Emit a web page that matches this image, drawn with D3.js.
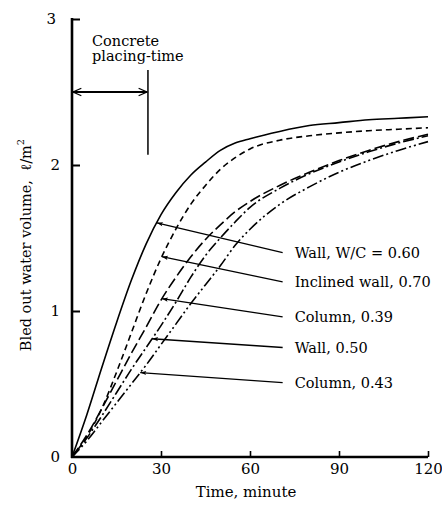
<!DOCTYPE html>
<html>
<head>
<meta charset="utf-8">
<script src="https://cdn.jsdelivr.net/npm/d3@7"></script>
<style>
  html, body { margin: 0; padding: 0; background: #fff; }
  svg { display: block; }
  text { font-family: "DejaVu Serif", "Liberation Serif", serif; fill: #000; }
</style>
</head>
<body>
<svg id="chart" width="442" height="507"></svg>
<script>
// ---- data ----
const times = [0, 5, 10, 15, 20, 25, 30, 35, 40, 45, 50, 55, 60, 70, 80, 90, 100, 110, 120];
const wall060      = [0, 0.29, 0.61, 0.92, 1.21, 1.46, 1.66, 1.81, 1.93, 2.02, 2.10, 2.15, 2.18, 2.23, 2.27, 2.29, 2.31, 2.32, 2.33];
const inclined070  = [0, 0.14, 0.33, 0.58, 0.85, 1.12, 1.36, 1.56, 1.73, 1.86, 1.97, 2.05, 2.11, 2.17, 2.20, 2.22, 2.235, 2.245, 2.255];
const column039    = [0, 0.15, 0.33, 0.52, 0.71, 0.89, 1.075, 1.23, 1.37, 1.49, 1.59, 1.68, 1.75, 1.86, 1.95, 2.03, 2.10, 2.16, 2.21];
const wall050      = [0, 0.13, 0.28, 0.44, 0.60, 0.75, 0.90, 1.06, 1.23, 1.38, 1.50, 1.61, 1.71, 1.84, 1.94, 2.02, 2.09, 2.15, 2.20];
const column043    = [0, 0.11, 0.24, 0.37, 0.50, 0.63, 0.77, 0.91, 1.05, 1.18, 1.31, 1.45, 1.56, 1.73, 1.85, 1.95, 2.03, 2.10, 2.16];

const seriesNames  = ["Wall, W/C = 0.60", "Inclined wall, 0.70", "Column, 0.39", "Wall, 0.50", "Column, 0.43"];
const seriesValues = [wall060, inclined070, column039, wall050, column043];
const dashStyles   = [null, "6,4", "11,4", "11,3,2,3", "11,3,2,3,2,3"];
const leaderTipTime   = [28.6, 30.3, 30.3, 27, 23];     // minute where each leader touches its curve
const labelLevel      = [1.40, 1.20, 0.96, 0.75, 0.51];  // volume level of each label
const labelTime       = 71;                               // leader end (minute)

const xTicks = [0, 30, 60, 90, 120];
const yTicks = [0, 1, 2, 3];
const placingTime = 25.6;     // concrete placing-time (minute)
const placingArrowLevel = 2.5;
const placingLineRange = [2.07, 2.65];

// ---- layout ----
const svg = d3.select("#chart");
const x = d3.scaleLinear().domain([0, 120]).range([72, 428]);
const y = d3.scaleLinear().domain([0, 3]).range([457, 19]);

// defs: arrowheads
const defs = svg.append("defs");
defs.append("marker").attr("id", "tip").attr("viewBox", "0 0 10 10")
  .attr("refX", 0).attr("refY", 5).attr("markerWidth", 9).attr("markerHeight", 6)
  .attr("markerUnits", "userSpaceOnUse").attr("orient", "auto")
  .append("path").attr("d", "M0,5 L10,1.5 L8,5 L10,8.5 Z").attr("fill", "#000");
defs.append("marker").attr("id", "open").attr("viewBox", "0 0 12 12")
  .attr("refX", 11).attr("refY", 6).attr("markerWidth", 12).attr("markerHeight", 10)
  .attr("markerUnits", "userSpaceOnUse").attr("orient", "auto-start-reverse")
  .append("path").attr("d", "M1,1.5 L11,6 L1,10.5").attr("fill", "none").attr("stroke", "#000").attr("stroke-width", 1.6);

// axes
const yAxis = d3.axisLeft(y).tickValues(yTicks).tickFormat(d3.format("d")).tickSize(-8).tickPadding(12);
const gy = svg.append("g").attr("transform", `translate(${x(0)},0)`).call(yAxis);
gy.select(".domain").remove();
gy.selectAll(".tick line").attr("stroke", "#000").attr("stroke-width", 2);
gy.selectAll(".tick text").attr("font-size", 15).attr("font-family", "DejaVu Serif").attr("dy", "0.3em");
gy.selectAll(".tick").filter(d => d === 0).select("line").remove();
gy.selectAll(".tick").filter(d => d === 3).select("text").attr("x", -16);

const xAxis = d3.axisBottom(x).tickValues(xTicks).tickFormat(d3.format("d")).tickSize(-6).tickPadding(6);
const gx = svg.append("g").attr("transform", `translate(0,${y(0)})`).call(xAxis);
gx.select(".domain").remove();
gx.selectAll(".tick line").attr("stroke", "#000").attr("stroke-width", 1.6);
gx.selectAll(".tick text").attr("font-size", 15).attr("font-family", "DejaVu Serif");
gx.selectAll(".tick").filter(d => d === 0).select("line").remove();

// axis lines
svg.append("line").attr("x1", x(0)).attr("x2", x(0)).attr("y1", y(3) - 1).attr("y2", y(0) + 1)
  .attr("stroke", "#000").attr("stroke-width", 2.6);
svg.append("line").attr("x1", x(0) - 1).attr("x2", x(120)).attr("y1", y(0)).attr("y2", y(0))
  .attr("stroke", "#000").attr("stroke-width", 2.4);

// axis titles
svg.append("text").attr("x", x(60) - 4).attr("y", 497).attr("text-anchor", "middle")
  .attr("font-size", 15).text("Time, minute");
const yl = svg.append("text").attr("transform", `translate(31,${245}) rotate(-90)`)
  .attr("text-anchor", "middle").attr("font-size", 14.5);
yl.append("tspan").text("Bled out water volume,\u00a0\u00a0\u2113/m");
yl.append("tspan").attr("font-size", 10).attr("dy", "-0.7em").text("2");

// curves
const line = d3.line().x(d => x(d[0])).y(d => y(d[1])).curve(d3.curveMonotoneX);
seriesValues.forEach((vals, i) => {
  const pts = times.map((t, j) => [t, vals[j]]);
  svg.append("path").attr("d", line(pts)).attr("fill", "none").attr("stroke", "#000")
    .attr("stroke-width", 1.6).attr("stroke-dasharray", dashStyles[i]);
});

// leaders and labels
function valueAt(vals, t) {
  const i = d3.bisectRight(times, t) - 1;
  const t0 = times[i], t1 = times[i + 1];
  return vals[i] + (vals[i + 1] - vals[i]) * (t - t0) / (t1 - t0);
}
seriesNames.forEach((name, i) => {
  const tt = leaderTipTime[i];
  const vv = valueAt(seriesValues[i], tt);
  svg.append("line").attr("x1", x(tt)).attr("y1", y(vv))
    .attr("x2", x(labelTime)).attr("y2", y(labelLevel[i]))
    .attr("stroke", "#000").attr("stroke-width", 1.3).attr("marker-start", "url(#tip)");
  svg.append("text").attr("x", x(labelTime) + 12).attr("y", y(labelLevel[i]) + 5)
    .attr("font-size", 14.5).text(name);
});

// concrete placing-time annotation
svg.append("line").attr("x1", x(placingTime)).attr("x2", x(placingTime))
  .attr("y1", y(placingLineRange[1])).attr("y2", y(placingLineRange[0]))
  .attr("stroke", "#000").attr("stroke-width", 1.5);
svg.append("line").attr("x1", x(0) + 1).attr("x2", x(placingTime) - 1)
  .attr("y1", y(placingArrowLevel)).attr("y2", y(placingArrowLevel))
  .attr("stroke", "#000").attr("stroke-width", 1.8)
  .attr("marker-start", "url(#open)").attr("marker-end", "url(#open)");
svg.append("text").attr("x", x(0) + 20).attr("y", 46).attr("font-size", 14.5).text("Concrete");
svg.append("text").attr("x", x(0) + 20).attr("y", 61).attr("font-size", 14.5).text("placing-time");
</script>
</body>
</html>
